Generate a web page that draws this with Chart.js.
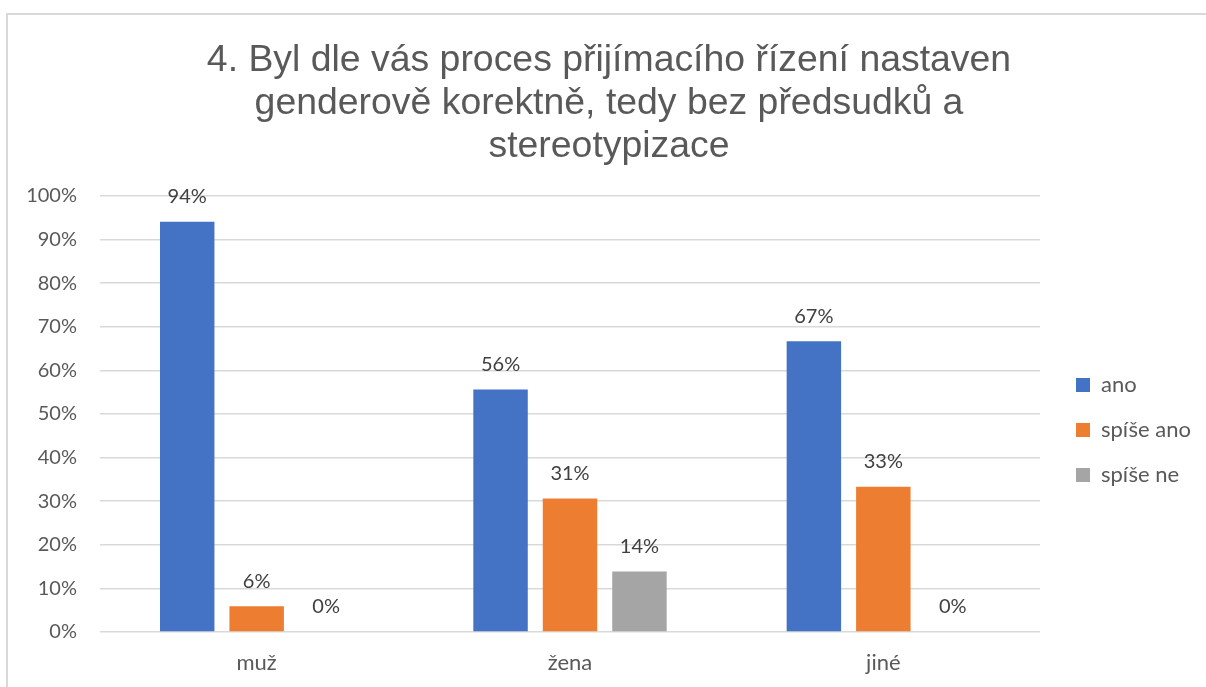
<!DOCTYPE html>
<html>
<head>
<meta charset="utf-8">
<script src="https://cdn.jsdelivr.net/npm/chart.js@4"></script>
<style>
  html, body { margin: 0; padding: 0; background: #fff; overflow: hidden; }
  #frame { position: absolute; left: 6px; top: 13px; width: 1300px; height: 800px; border: 2px solid #d9d9d9; }
  #chart { position: absolute; left: 0; top: 0; }
</style>
</head>
<body>
<div id="frame"></div>
<canvas id="chart" width="1206" height="687"></canvas>
<script>
// chart data
const titleLines = [
  "4. Byl dle vás proces přijímacího řízení nastaven",
  "genderově korektně, tedy bez předsudků a",
  "stereotypizace"
];
const categories = ["muž", "žena", "jiné"];
const seriesNames = ["ano", "spíše ano", "spíše ne"];
const ano = [94.1, 55.6, 66.7];
const spiseAno = [5.9, 30.6, 33.3];
const spiseNe = [0, 13.9, 0];
const seriesColors = ["#4472C4", "#ED7D31", "#A5A5A5"];
const yTicks = [0, 10, 20, 30, 40, 50, 60, 70, 80, 90, 100];

const labelFont = "Lato, 'Liberation Sans', sans-serif";

// value labels above each bar
const barLabels = {
  id: "barLabels",
  afterDatasetsDraw(chart) {
    const ctx = chart.ctx;
    ctx.save();
    ctx.font = "20px " + labelFont;
    ctx.fillStyle = "#404040";
    ctx.textAlign = "center";
    ctx.textBaseline = "middle";
    chart.data.datasets.forEach((ds, i) => {
      chart.getDatasetMeta(i).data.forEach((bar, j) => {
        ctx.fillText(Math.round(ds.data[j]) + "%", bar.x, bar.y - 25);
      });
    });
    ctx.restore();
  },
};

// fix legend width and nudge its items like the original
const legendSpot = {
  id: "legendSpot",
  beforeInit(chart) {
    const fit = chart.legend.fit;
    chart.legend.fit = function () {
      fit.bind(chart.legend)();
      this.width = 166;
    };
  },
  afterLayout(chart) {
    const l = chart.legend;
    const dx = 13, dy = 72;
    l.left += dx; l.right += dx;
    l.top += dy; l.bottom += dy;
  },
};

const ctx = document.getElementById("chart").getContext("2d");

new Chart(ctx, {
  type: "bar",
  data: {
    labels: categories,
    datasets: [
      { label: seriesNames[0], data: ano, backgroundColor: seriesColors[0] },
      { label: seriesNames[1], data: spiseAno, backgroundColor: seriesColors[1] },
      { label: seriesNames[2], data: spiseNe, backgroundColor: seriesColors[2] },
    ],
  },
  options: {
    responsive: false,
    animation: false,
    categoryPercentage: 0.665,
    barPercentage: 0.784,
    layout: { padding: { top: 39, left: 12, right: 0, bottom: 10 } },
    plugins: {
      title: {
        display: true,
        text: titleLines,
        color: "#595959",
        font: { family: "'Liberation Sans', Arial, sans-serif", size: 37.4, weight: "normal", lineHeight: 1.15 },
        padding: { top: 0, bottom: 28 },
      },
      legend: {
        position: "right",
        labels: {
          boxWidth: 14,
          boxHeight: 14,
          padding: 23,
          color: "#595959",
          font: { family: labelFont, size: 22 },
        },
      },
      tooltip: { enabled: false },
    },
    scales: {
      x: {
        afterFit(scale) { scale.height = 45; },
        grid: { display: false, drawTicks: false },
        border: { display: false },
        ticks: {
          color: "#595959",
          font: { family: labelFont, size: 22 },
          padding: 18,
        },
      },
      y: {
        min: 0,
        max: 100,
        afterFit(scale) { scale.width = 88; },
        afterBuildTicks(scale) { scale.ticks = yTicks.map((v) => ({ value: v })); },
        grid: { color: "#d9d9d9", lineWidth: 1.5, drawTicks: false },
        border: { display: false },
        ticks: {
          color: "#595959",
          font: { family: labelFont, size: 20 },
          padding: 23,
          callback: (v) => v + "%",
        },
      },
    },
  },
  plugins: [barLabels, legendSpot],
});
</script>
</body>
</html>
